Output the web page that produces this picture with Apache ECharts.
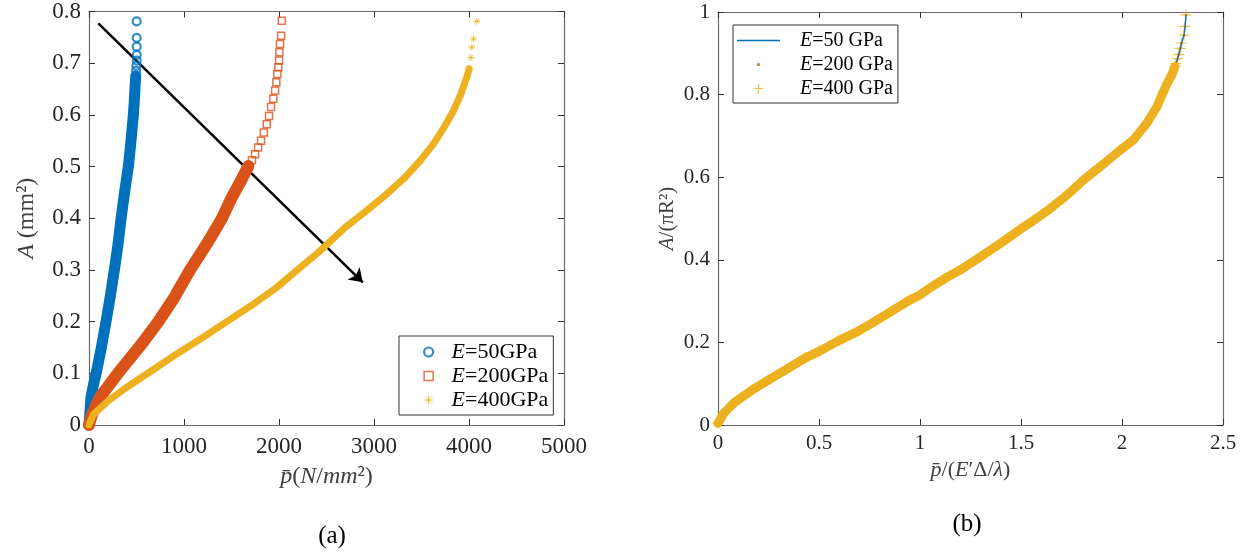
<!DOCTYPE html>
<html>
<head>
<meta charset="utf-8">
<script src="https://cdn.jsdelivr.net/npm/echarts@6/dist/echarts.min.js"></script>
<style>html,body{margin:0;padding:0;background:#fff}#c{width:1250px;height:554px}</style>
</head>
<body>
<div id="c"></div>
<script>
// ---------- data ----------
// Panel (a): [p (N/mm^2), A (mm^2)]
const e50Dense = [[0,0],[8,0.02],[21,0.054],[50,0.08],[81,0.105],[130,0.15],[179,0.2],[225,0.25],[267,0.3],[306,0.35],[338,0.4],[372,0.447],[414,0.5],[439,0.544],[467,0.6],[478,0.63],[484,0.653],[492,0.675]];
const e50Sparse = [[495,0.685],[498,0.695],[502,0.705],[503,0.716],[502,0.732],[502,0.749],[502,0.781]];
const e200Dense = [[0,0],[30,0.02],[116,0.054],[326,0.105],[555,0.157],[730,0.2],[899,0.247],[1063,0.3],[1239,0.35],[1400,0.4],[1502,0.44],[1601,0.473],[1678,0.501]];
const e200Sparse = [[1715,0.512],[1748,0.524],[1780,0.537],[1811,0.55],[1840,0.566],[1871,0.582],[1895,0.598],[1916,0.615],[1940,0.631],[1959,0.647],[1972,0.663],[1983,0.679],[1993,0.692],[2001,0.705],[2004,0.721],[2011,0.737],[2022,0.753],[2029,0.782]];
const e400Dense = [[0,0],[45,0.02],[203,0.047],[397,0.073],[660,0.105],[923,0.1375],[1204,0.17],[1450,0.2],[1730,0.234],[1976,0.266],[2187,0.299],[2415,0.334],[2696,0.382],[2924,0.415],[3135,0.447],[3327,0.479],[3485,0.511],[3626,0.544],[3738,0.576],[3836,0.608],[3914,0.64],[3977,0.673],[4001,0.689]];
const e400Sparse = [[4019,0.711],[4029,0.731],[4047,0.747],[4082,0.781]];
const arrowPts = [[98,0.777],[2882,0.276]];
// Panel (b): [p/(E'Δ/λ), A/(πR^2)] — the three cases coincide
const normDense = [[0,0.004],[0.031,0.03],[0.083,0.055],[0.17,0.085],[0.257,0.111],[0.343,0.136],[0.43,0.162],[0.503,0.179],[0.6,0.205],[0.69,0.226],[0.777,0.251],[0.864,0.277],[0.951,0.303],[1.0,0.315],[1.037,0.328],[1.124,0.355],[1.211,0.379],[1.298,0.407],[1.384,0.435],[1.471,0.465],[1.5,0.475],[1.558,0.494],[1.645,0.524],[1.731,0.558],[1.818,0.597],[1.891,0.625],[1.99,0.665],[2.056,0.69],[2.122,0.73],[2.172,0.77],[2.204,0.806],[2.224,0.827],[2.246,0.847],[2.262,0.868]];
const normSparse = [[2.267,0.875],[2.275,0.887],[2.281,0.897],[2.289,0.912],[2.295,0.925],[2.307,0.944],[2.312,0.965],[2.317,0.993]];
const namesA = ['E=50GPa','E=200GPa','E=400GPa'];
const namesB = ['E=50 GPa','E=200 GPa','E=400 GPa'];
const xRangeA = [0,5000,1000], yRangeA = [0,0.8,0.1];
const xRangeB = [0,2.5,0.5], yRangeB = [0,1,0.2];

// ---------- styling ----------
const BLUE='#0072BD', RED='#D95319', YEL='#EDB120';
const SERIF='"Liberation Serif","Times New Roman",serif';
const FRAME='#6a6a6a';
const ASTER='path://M0,5L10,5M5,0L5,10M1.5,1.5L8.5,8.5M8.5,1.5L1.5,8.5';
const PLUS='path://M0,5L10,5M5,0L5,10';
const SQUARE='path://M0,0L10,0L10,10L0,10Z';
const DOT='path://M0,0M10,10M3.6,3.6L6.4,3.6L6.4,6.4L3.6,6.4Z';
const LINEICON='path://M0,0L43,0L43,1.3L0,1.3Z';

const richName = (fs)=>({
  i:{fontFamily:SERIF,fontStyle:'italic',fontSize:fs,color:'#404040'},
  r:{fontFamily:SERIF,fontSize:fs,color:'#404040'}
});

function mkX(gi, rng, pos, fs, margin){
  return {type:'value',gridIndex:gi,position:pos,min:rng[0],max:rng[1],interval:rng[2],
    axisLine:{show:true,onZero:false,lineStyle:{color:FRAME,width:1.2}},
    axisTick:{show:true,inside:true,length:6,lineStyle:{color:'#333'}},
    splitLine:{show:false},
    axisLabel:{show:pos==='bottom',fontFamily:SERIF,fontSize:fs,color:'#262626',margin:margin,formatter:v=>String(v)}};
}
function mkY(gi, rng, pos, fs, margin){
  return {type:'value',gridIndex:gi,position:pos,min:rng[0],max:rng[1],interval:rng[2],
    axisLine:{show:true,onZero:false,lineStyle:{color:FRAME,width:1.2}},
    axisTick:{show:true,inside:true,length:6,lineStyle:{color:'#333'}},
    splitLine:{show:false},
    axisLabel:{show:pos==='left',fontFamily:SERIF,fontSize:fs,color:'#262626',margin:margin,formatter:v=>String(v)}};
}

const xA = mkX(0,xRangeA,'bottom',23,10);
xA.name='{i|p\u0304}{r|(}{i|N}{r|/}{i|mm}{r|\u00b2)}';
xA.nameLocation='middle'; xA.nameGap=40; xA.nameTextStyle={rich:richName(24)};
const yA = mkY(0,yRangeA,'left',23,8);
yA.name='{i|A}{r| (mm\u00b2)}';
yA.nameLocation='middle'; yA.nameGap=50; yA.nameTextStyle={rich:richName(24)};
const xB = mkX(1,xRangeB,'bottom',21,8);
xB.name='{i|p\u0304}{r|/(}{i|E}{r|\u2032\u0394/}{i|\u03bb}{r|)}';
xB.nameLocation='middle'; xB.nameGap=30; xB.nameTextStyle={rich:richName(22)};
const yB = mkY(1,yRangeB,'left',21,8);
yB.name='{i|A}{r|/(\u03c0R\u00b2)}';
yB.nameLocation='middle'; yB.nameGap=40; yB.nameTextStyle={rich:richName(21)};

const legendFmt = n => '{i|E}{r|' + n.slice(1) + '}';

const option = {
  animation:false,
  backgroundColor:'#fff',
  title:[
    {text:'(a)',left:327,top:519,textAlign:'center',textStyle:{fontFamily:SERIF,fontSize:25,fontWeight:'normal',color:'#000'}},
    {text:'(b)',left:962,top:507,textAlign:'center',textStyle:{fontFamily:SERIF,fontSize:25,fontWeight:'normal',color:'#000'}}
  ],
  grid:[
    {left:89,top:11,width:475,height:414},
    {left:718,top:12,width:505,height:413}
  ],
  xAxis:[xA, mkX(0,xRangeA,'top',22,8), xB, mkX(1,xRangeB,'top',21,8)],
  yAxis:[yA, mkY(0,yRangeA,'right',22,8), yB, mkY(1,yRangeB,'right',21,8)],
  legend:[
    {left:399,top:336,orient:'vertical',itemWidth:36,itemHeight:9,itemGap:2,
     padding:[5,5,4,24],borderColor:'#333',borderWidth:1,backgroundColor:'#fff',
     formatter:legendFmt,
     textStyle:{fontFamily:SERIF,fontSize:22,color:'#000',lineHeight:22,
       rich:{i:{fontFamily:SERIF,fontStyle:'italic',fontSize:22,color:'#000'},r:{fontFamily:SERIF,fontSize:22,color:'#000'}}},
     data:[
       {name:namesA[0],icon:'circle',itemStyle:{color:'transparent',borderColor:BLUE,borderWidth:2.2}},
       {name:namesA[1],icon:SQUARE,itemStyle:{color:'transparent',borderColor:RED,borderWidth:1.5}},
       {name:namesA[2],icon:ASTER,itemStyle:{color:'transparent',borderColor:YEL,borderWidth:1}}
     ]},
    {left:733,top:25,orient:'vertical',itemWidth:43,itemHeight:10,itemGap:3,
     padding:[5,5,4,4],borderColor:'#333',borderWidth:1,backgroundColor:'#fff',
     formatter:legendFmt,
     textStyle:{fontFamily:SERIF,fontSize:20,color:'#000',lineHeight:21,
       rich:{i:{fontFamily:SERIF,fontStyle:'italic',fontSize:20,color:'#000',padding:[0,0,0,15]},r:{fontFamily:SERIF,fontSize:20,color:'#000'}}},
     data:[
       {name:namesB[0],icon:LINEICON,itemStyle:{color:BLUE,borderWidth:0}},
       {name:namesB[1],icon:DOT,itemStyle:{color:RED}},
       {name:namesB[2],icon:PLUS,itemStyle:{color:'transparent',borderColor:YEL,borderWidth:1.2}}
     ]}
  ],
  series:[
    // panel (a)
    {name:'band50',type:'line',xAxisIndex:0,yAxisIndex:0,data:e50Dense,symbol:'none',silent:true,
      lineStyle:{color:BLUE,width:11,cap:'round',join:'round'}},
    {name:namesA[0],type:'scatter',xAxisIndex:0,yAxisIndex:0,data:e50Dense.concat(e50Sparse),symbol:'circle',symbolSize:8,
      itemStyle:{color:'transparent',borderColor:BLUE,borderWidth:2.2}},
    {name:'band200',type:'line',xAxisIndex:0,yAxisIndex:0,data:e200Dense,symbol:'none',silent:true,
      lineStyle:{color:RED,width:12,cap:'round',join:'round'}},
    {name:namesA[1],type:'scatter',xAxisIndex:0,yAxisIndex:0,data:e200Dense.concat(e200Sparse),symbol:SQUARE,symbolSize:7,
      itemStyle:{color:'transparent',borderColor:RED,borderWidth:1.5}},
    {name:'band400',type:'line',xAxisIndex:0,yAxisIndex:0,data:e400Dense,symbol:'none',silent:true,
      lineStyle:{color:YEL,width:7,cap:'round',join:'round'}},
    {name:namesA[2],type:'scatter',xAxisIndex:0,yAxisIndex:0,data:e400Dense.concat(e400Sparse),symbol:ASTER,symbolSize:7,
      itemStyle:{color:'transparent',borderColor:YEL,borderWidth:1}},
    {name:'arrow',type:'lines',coordinateSystem:'cartesian2d',xAxisIndex:0,yAxisIndex:0,silent:true,
      symbol:['none','arrow'],symbolSize:[0,13],
      lineStyle:{color:'#000',width:2.5,opacity:1},
      data:[{coords:arrowPts}]},
    // panel (b)
    {name:namesB[0],type:'line',xAxisIndex:2,yAxisIndex:2,data:normDense.concat(normSparse),symbol:'none',
      lineStyle:{color:BLUE,width:1.3}},
    {name:namesB[1],type:'scatter',xAxisIndex:2,yAxisIndex:2,data:normDense.concat(normSparse),symbol:'circle',symbolSize:3,
      itemStyle:{color:RED}},
    {name:'bandN',type:'line',xAxisIndex:2,yAxisIndex:2,data:normDense,symbol:'none',silent:true,
      lineStyle:{color:YEL,width:9,cap:'round',join:'round'}},
    {name:namesB[2],type:'scatter',xAxisIndex:2,yAxisIndex:2,data:normDense.concat(normSparse),symbol:PLUS,symbolSize:11,
      itemStyle:{color:'transparent',borderColor:YEL,borderWidth:1.2}}
  ]
};
const chart = echarts.init(document.getElementById('c'),null,{renderer:'canvas'});
chart.setOption(option);
</script>
</body>
</html>
